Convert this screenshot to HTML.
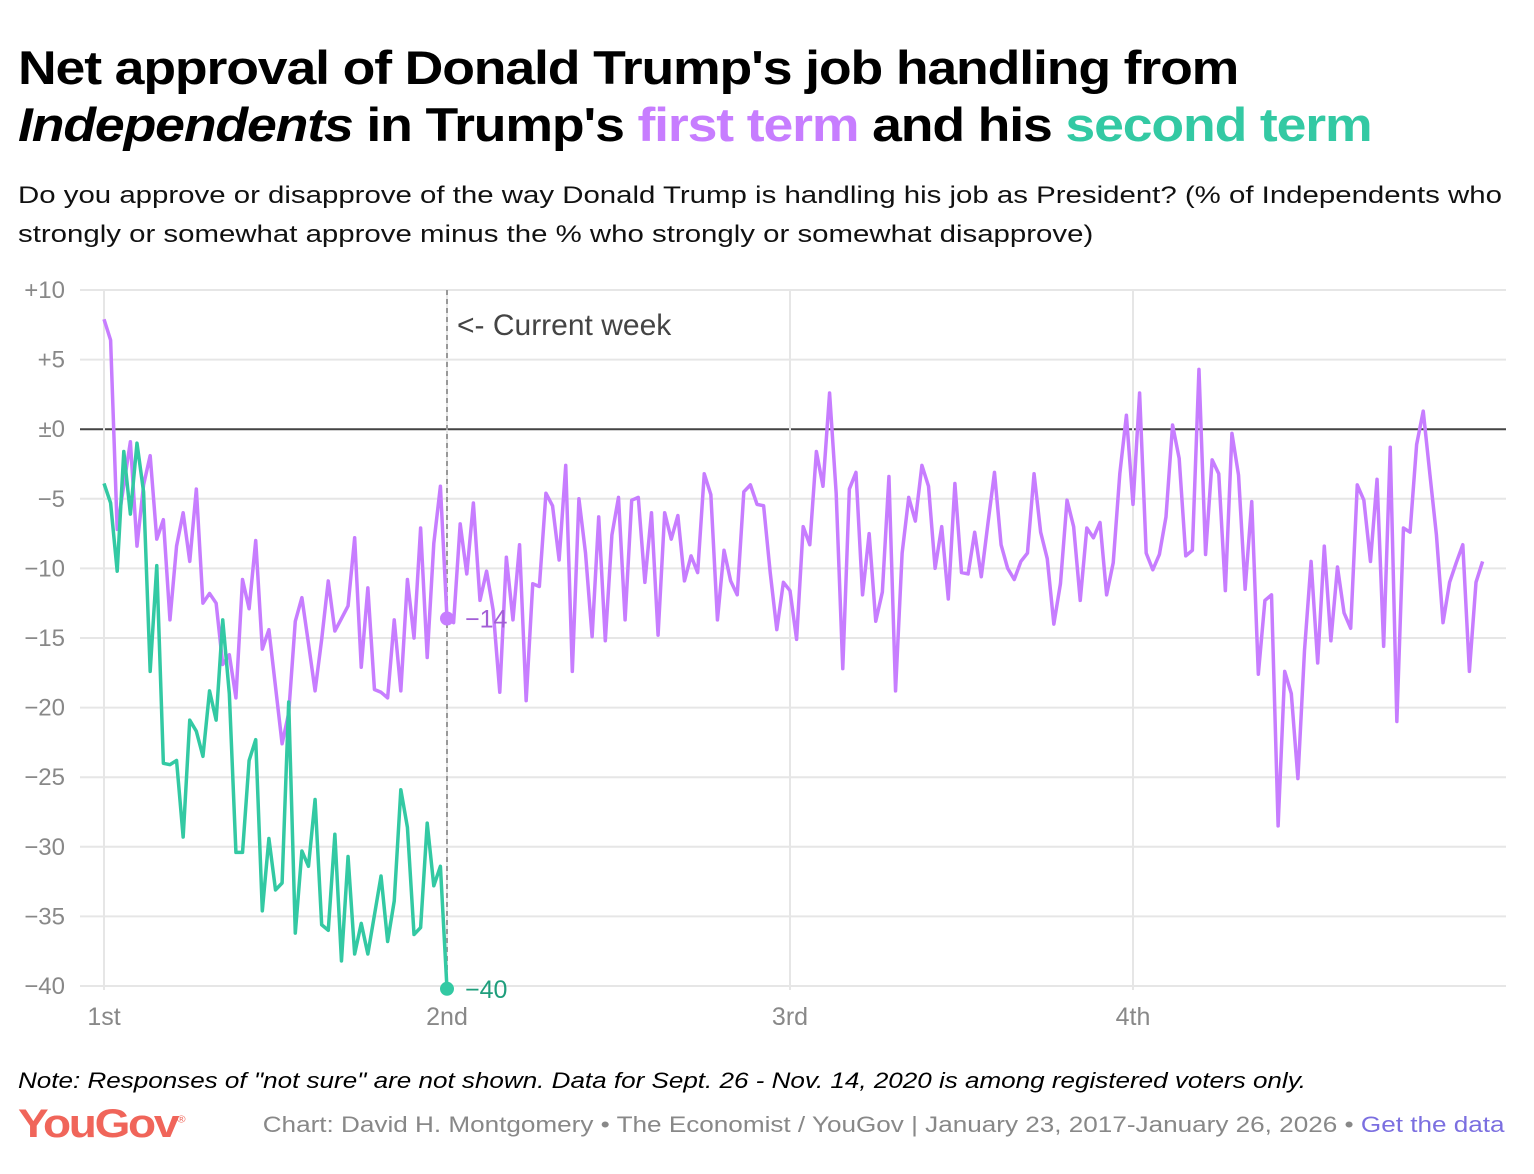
<!DOCTYPE html>
<html><head><meta charset="utf-8">
<style>
html,body{margin:0;padding:0;background:#fff;}
body{width:1534px;height:1174px;overflow:hidden;position:relative;font-family:"Liberation Sans",sans-serif;}
.t{position:absolute;left:18px;font-weight:bold;font-size:47px;color:#000;letter-spacing:-1px;white-space:nowrap;transform:scaleX(1.14);transform-origin:0 0;}
.sub{position:absolute;left:18px;top:176px;font-size:24.5px;line-height:39px;color:#111;white-space:nowrap;transform:scaleX(1.2);transform-origin:0 0;}
.note{position:absolute;left:18px;top:1068px;font-size:22.5px;font-style:italic;color:#000;white-space:nowrap;transform:scaleX(1.157);transform-origin:0 0;}
.logo{position:absolute;left:18px;top:1102px;font-size:40px;font-weight:bold;color:#f0655a;letter-spacing:-2px;transform:scaleX(1.15);transform-origin:0 0;}
.cred{position:absolute;right:29px;top:1112px;font-size:22.5px;color:#888;white-space:nowrap;transform:scaleX(1.16);transform-origin:100% 0;}
svg{position:absolute;left:0;top:0;}
</style></head>
<body>
<div class="t" style="top:40px">Net approval of Donald Trump's job handling from</div>
<div class="t" style="top:97px"><i>Independents</i> in Trump's <span style="color:#c77dff">first term</span> and his <span style="color:#33c9a3">second term</span></div>
<div class="sub">Do you approve or disapprove of the way Donald Trump is handling his job as President? (% of Independents who<br>strongly or somewhat approve minus the % who strongly or somewhat disapprove)</div>
<svg id="chart" width="1534" height="1174"></svg>
<div class="note">Note: Responses of "not sure" are not shown. Data for Sept. 26 - Nov. 14, 2020 is among registered voters only.</div>
<div class="logo">YouGov<sup style="font-size:10px;font-weight:normal">®</sup></div>
<div class="cred">Chart: David H. Montgomery • The Economist / YouGov | January 23, 2017-January 26, 2026 • <span style="color:#7b6fe0">Get the data</span></div>
<script>
const yTicks = [10,5,0,-5,-10,-15,-20,-25,-30,-35,-40];
const yTickLabels = ["+10","+5","±0","−5","−10","−15","−20","−25","−30","−35","−40"];
const xTickWeeks = [0,52,104,156];
const xTickLabels = ["1st","2nd","3rd","4th"];
const firstTerm = [7.9,6.4,-7.2,-4,-0.9,-8.4,-4,-1.9,-7.9,-6.5,-13.7,-8.4,-6,-9.5,-4.3,-12.5,-11.8,-12.5,-16.9,-16.2,-19.3,-10.8,-12.9,-8,-15.8,-14.4,-18.5,-22.6,-20.4,-13.8,-12.1,-15.4,-18.8,-15.1,-10.9,-14.5,-13.6,-12.7,-7.8,-17.1,-11.4,-18.7,-18.9,-19.3,-13.7,-18.8,-10.8,-15,-7.1,-16.4,-8.2,-4.1,
-13.6,-13.9,-6.8,-10.4,-5.3,-12.3,-10.2,-13,-18.9,-9.2,-13.7,-8.3,-19.5,-11.1,-11.3,-4.6,-5.5,-9.4,-2.6,-17.4,-5,-8.9,-14.9,-6.3,-15.2,-7.6,-4.9,-13.7,-5.1,-4.9,-11,-6,-14.8,-6,-7.9,-6.2,-10.9,-9.1,-10.3,-3.2,-4.7,-13.7,-8.7,-10.9,-11.9,-4.5,-4,-5.4,-5.5,-10.3,-14.4,-11,
-11.6,-15.1,-7,-8.3,-1.6,-4.1,2.6,-4.6,-17.2,-4.3,-3.1,-11.9,-7.5,-13.8,-11.7,-3.4,-18.8,-8.9,-4.9,-6.6,-2.6,-4.1,-10,-7,-12.2,-3.9,-10.3,-10.4,-7.4,-10.6,-6.8,-3.1,-8.3,-10,-10.8,-9.5,-8.9,-3.2,-7.4,-9.3,-14,-11.1,-5.1,-7,-12.3,-7.1,-7.8,-6.7,-11.9,-9.6,-3.2,1,
-5.4,2.6,-8.9,-10.1,-9,-6.3,0.3,-2.1,-9.1,-8.7,4.3,-9,-2.2,-3.2,-11.6,-0.3,-3.3,-11.5,-5.2,-17.6,-12.3,-11.9,-28.5,-17.4,-19,-25.1,-15.9,-9.5,-16.8,-8.4,-15.2,-9.9,-13.2,-14.3,-4,-5.1,-9.5,-3.6,-15.6,-1.3,-21,-7.1,-7.4,-1.1,1.3,-3.2,-7.6,-13.9,-11,-9.6,-8.3,-17.4,-11,-9.5];
const secondTerm = [-3.9,-5.3,-10.2,-1.6,-6.1,-1,-4.5,-17.4,-9.8,-24,-24.1,-23.8,-29.3,-20.9,-21.7,-23.5,-18.8,-20.9,-13.7,-19,-30.4,-30.4,-23.8,-22.3,-34.6,-29.4,-33.1,-32.6,-19.6,-36.2,-30.3,-31.4,-26.6,-35.6,-36,-29.1,-38.2,-30.7,-37.7,-35.5,-37.7,-34.9,-32.1,-36.8,-33.9,-25.9,-28.6,-36.3,-35.8,-28.3,-32.8,-31.4,-40.2];

const svg = document.getElementById('chart');
const NS = 'http://www.w3.org/2000/svg';
const X0 = 104, YEAR = 343, WPY = 52, Y10 = 290, Ym40 = 986;
const xs = w => X0 + w * YEAR / WPY;
const ys = v => Y10 + (10 - v) * (Ym40 - Y10) / 50;
function mk(tag, attrs, parent){const e=document.createElementNS(NS,tag);for(const k in attrs)e.setAttribute(k,attrs[k]);(parent||svg).appendChild(e);return e;}

yTicks.forEach((v,i)=>{
  const g = mk('line',{x1:80,x2:1506,y1:ys(v),y2:ys(v),stroke:v===0?'#444':'#e6e6e6','stroke-width':2});
  
  
  const t = mk('text',{x:65,y:ys(v)+8,'text-anchor':'end','font-size':24,fill:'#888','font-family':'Liberation Sans, sans-serif'});
  t.textContent = yTickLabels[i];
  
  
});
xTickWeeks.forEach((w,i)=>{
  const g = mk('line',{x1:xs(w),x2:xs(w),y1:290,y2:990,stroke:'#e6e6e6','stroke-width':2});
  
  
  const t = mk('text',{x:xs(w),y:1025,'text-anchor':'middle','font-size':25,fill:'#888','font-family':'Liberation Sans, sans-serif'});
  t.textContent = xTickLabels[i];
  
  
});
const cw = xs(secondTerm.length-1);
const cl = mk('line',{x1:cw,x2:cw,y1:290,y2:990,stroke:'#999','stroke-width':2,'stroke-dasharray':'5,4'});


const ct = mk('text',{x:cw+10,y:335,'font-size':30,fill:'#444','font-family':'Liberation Sans, sans-serif'});
ct.textContent = '<- Current week';



function line(data,color,name){
  const p = mk('polyline',{points:data.map((v,i)=>xs(i)+','+ys(v)).join(' '),fill:'none',stroke:color,'stroke-width':3.5,'stroke-linejoin':'round'});
  
  
}
line(firstTerm,'#c77dff','first-term-line');
line(secondTerm,'#33c9a3','second-term-line');

const idx = secondTerm.length-1;
const d1 = mk('circle',{cx:xs(idx),cy:ys(firstTerm[idx]),r:7,fill:'#c77dff'});


const l1 = mk('text',{x:xs(idx)+18,y:ys(firstTerm[idx])+9,'font-size':25,fill:'#a35fd6','font-family':'Liberation Sans, sans-serif'});
l1.textContent = '−' + Math.round(-firstTerm[idx]);


const d2 = mk('circle',{cx:xs(idx),cy:ys(secondTerm[idx]),r:7,fill:'#33c9a3'});


const l2 = mk('text',{x:xs(idx)+18,y:ys(secondTerm[idx])+9,'font-size':25,fill:'#1f9e7c','font-family':'Liberation Sans, sans-serif'});
l2.textContent = '−' + Math.round(-secondTerm[idx]);


</script>
</body></html>
